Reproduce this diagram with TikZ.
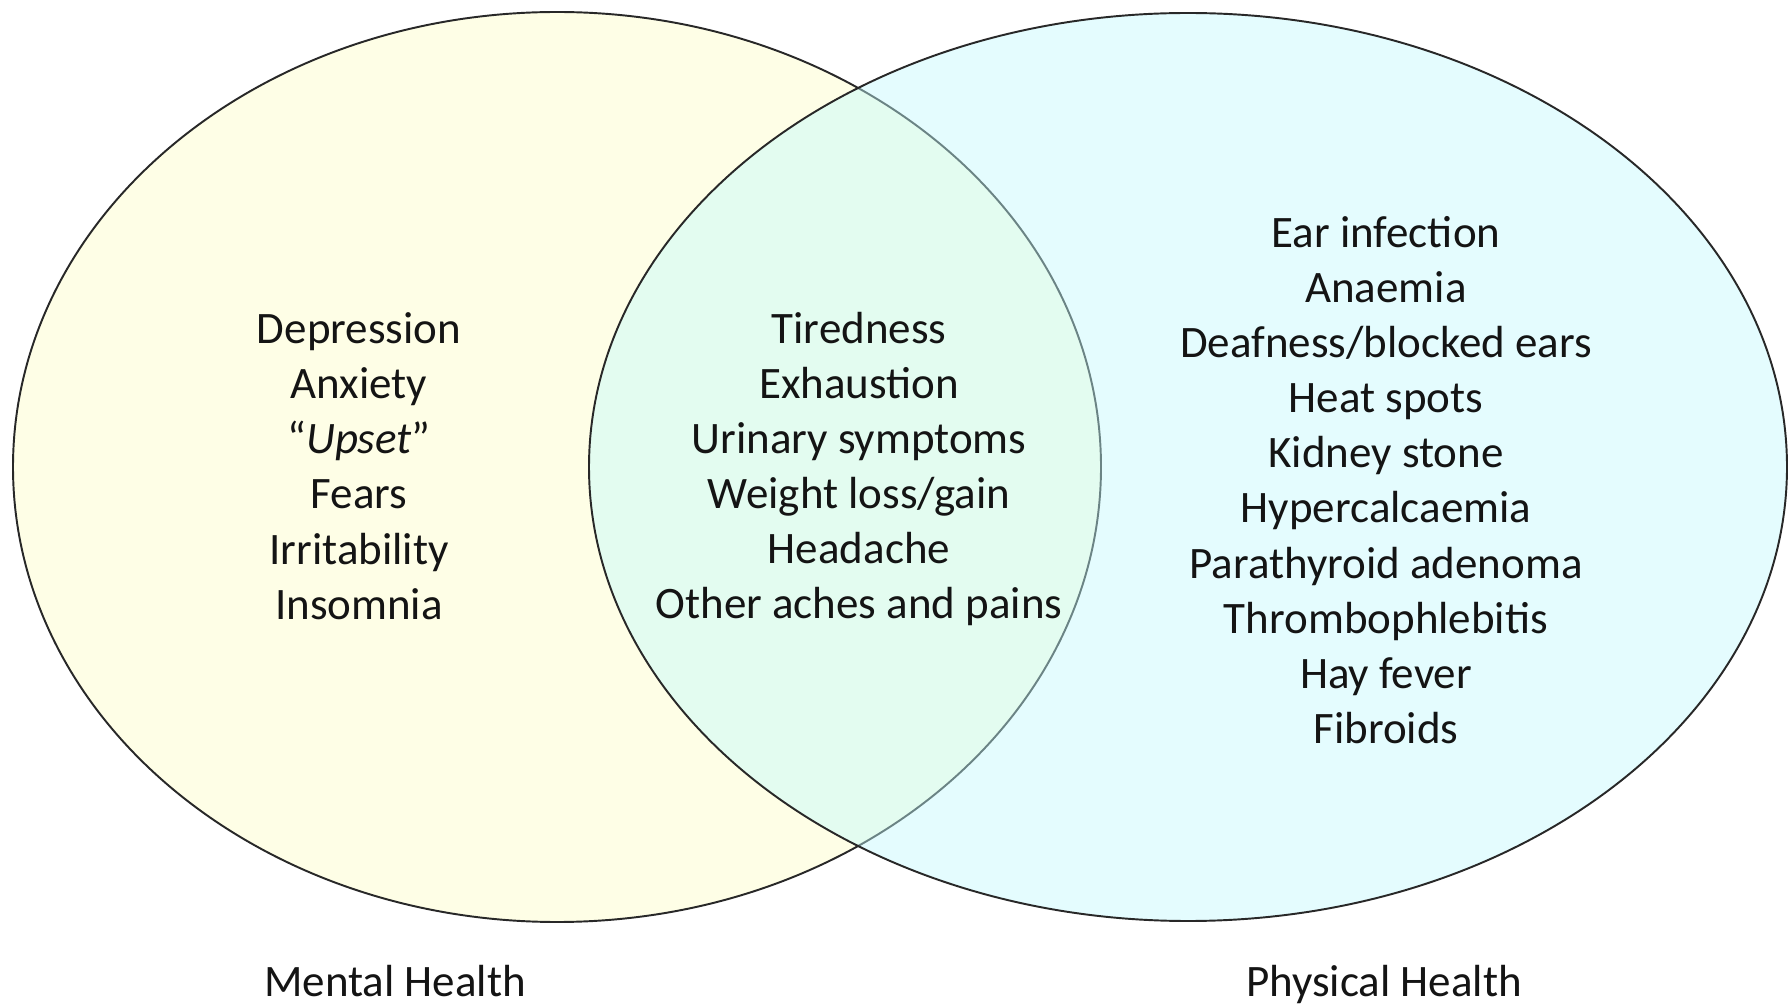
\documentclass[tikz,border=0pt]{standalone}
\usepackage{fontspec}
\setmainfont{Carlito}
\usepackage{xcolor}
\usepackage{tikz}
\usetikzlibrary{shapes.geometric, positioning}
\definecolor{mentfill}{RGB}{254,254,230}
\definecolor{physfill}{RGB}{194,250,253}
\definecolor{edge}{RGB}{40,40,40}
\definecolor{txt}{RGB}{20,20,20}

\begin{document}
\begin{tikzpicture}[
  circ/.style={ellipse, draw=edge, line width=0.55pt, inner sep=0pt, outer sep=0pt},
  items/.style={align=center, text=txt, font=\fontsize{12.8}{15.7}\selectfont},
  label/.style={text=txt, font=\fontsize{12.8}{15.7}\selectfont}
]
  \path[use as bounding box, fill=white] (0,0) rectangle (17.89,10.04);

  % the two sets
  \node[circ, fill=mentfill, minimum width=10.88cm, minimum height=9.10cm] (mental) at (5.57,5.37) {};
  \node[circ, fill=physfill, fill opacity=0.44, minimum width=11.98cm, minimum height=9.08cm] (physical) at (11.88,5.37) {};

  % contents
  \node[items] (mentlist) at (3.59,5.38)
    {Depression\\Anxiety\\“\textit{Upset}”\\Fears\\Irritability\\Insomnia};
  \node[items] (bothlist) at (8.59,5.35)
    {Tiredness\\Exhaustion\\Urinary symptoms\\Weight loss/gain\\Headache\\Other aches and pains};
  \node[items] (physlist) at (13.86,5.24)
    {Ear infection\\Anaemia\\Deafness/blocked ears\\Heat spots\\Kidney stone\\Hypercalcaemia\\Parathyroid adenoma\\Thrombophlebitis\\Hay fever\\Fibroids};

  % set names
  \node[label] (mentname) at (3.95,0.23) {Mental Health};
  \node[label] (physname) at (13.84,0.19) {Physical Health};
\end{tikzpicture}
\end{document}
